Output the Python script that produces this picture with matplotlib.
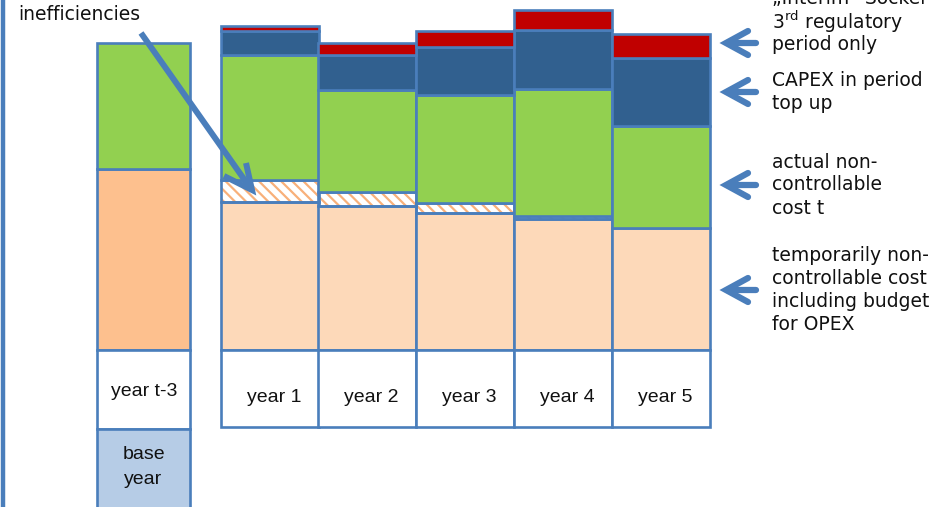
import matplotlib
matplotlib.use("Agg")
import matplotlib.pyplot as plt
from matplotlib.lines import Line2D

# ---- data -------------------------------------------------------------
years = ["year 1", "year 2", "year 3", "year 4", "year 5"]
opex_budget = [148, 144, 137, 131, 122]       # temporarily non-controllable cost incl. OPEX budget
inefficiencies = [22, 14, 10, 3, 0]            # hatched band
actual_noncontrollable = [125, 102, 108, 127, 102]
capex_topup = [24, 35, 48, 59, 68]
interim_sockel = [5, 12, 16, 20, 24]

base_label = "year t-3"
base_caption = "base\nyear"
base_opex = 181
base_actual = 126

legend_lines = [
    ["„Interim“ Sockel", r"3$^{\mathrm{rd}}$ regulatory", "period only"],
    ["CAPEX in period", "top up"],
    ["actual non-", "controllable", "cost t"],
    ["temporarily non-", "controllable cost", "including budget", "for OPEX"],
]

# ---- styling ----------------------------------------------------------
EDGE = "#4A7EBB"
C_BEIGE = "#FDD9B9"
C_ORANGE = "#FDC08E"
C_GREEN = "#92D050"
C_NAVY = "#31608F"
C_RED = "#C00000"
C_HATCH = "#F8B07A"
C_BASEBOX = "#B6CCE6"
LW = 1.9

plt.rcParams["hatch.linewidth"] = 1.6

W, H = 935, 507
fig = plt.figure(figsize=(W / 100, H / 100), dpi=100)

# value axes: 0 at the common baseline, label boxes below it
ax = fig.add_axes([0, 0, 1, 1])
ax.set_xlim(0, W)
ax.set_ylim(-(H - 350), 350)
ax.axis("off")

year_x = [270, 367, 465, 563, 661]
year_w = 97.5
base_x = 143.5
base_w = 93

# stacked year columns
bottom = [0] * len(years)


def stack(values, color, hatch=False):
    global bottom
    xs = [x for x, v in zip(year_x, values) if v > 0]
    vs = [v for v in values if v > 0]
    bs = [b for b, v in zip(bottom, values) if v > 0]
    if hatch:
        ax.bar(xs, vs, bottom=bs, width=year_w, color="white",
               edgecolor=C_HATCH, linewidth=0, hatch="\\\\\\", zorder=2)
        ax.bar(xs, vs, bottom=bs, width=year_w, fill=False,
               edgecolor=EDGE, linewidth=LW, zorder=3)
    else:
        ax.bar(xs, vs, bottom=bs, width=year_w, color=color,
               edgecolor=EDGE, linewidth=LW, zorder=3)
    bottom = [b + v for b, v in zip(bottom, values)]


stack(opex_budget, C_BEIGE)
stack(inefficiencies, None, hatch=True)
stack(actual_noncontrollable, C_GREEN)
stack(capex_topup, C_NAVY)
stack(interim_sockel, C_RED)

# base year column
ax.bar(base_x, base_opex, width=base_w, color=C_ORANGE, edgecolor=EDGE,
       linewidth=LW, zorder=3)
ax.bar(base_x, base_actual, bottom=base_opex, width=base_w, color=C_GREEN,
       edgecolor=EDGE, linewidth=LW, zorder=3)

# label boxes under the columns
ax.bar(year_x, [-77] * len(years), width=year_w, color="white",
       edgecolor=EDGE, linewidth=LW, zorder=3)
ax.bar(base_x, -79, width=base_w, color="white", edgecolor=EDGE,
       linewidth=LW, zorder=3)
ax.bar(base_x, -90, bottom=-79, width=base_w, color=C_BASEBOX,
       edgecolor=EDGE, linewidth=LW, zorder=3)

lab_font = dict(family=["Liberation Sans", "DejaVu Sans"], fontsize=14,
                color="#111111", ha="center", va="center", zorder=5)
for x, name in zip(year_x, years):
    ax.text(x + 4, -47, name, **lab_font)
ax.text(base_x + 1, -42, base_label, **lab_font)
ax.text(base_x, -117, base_caption, linespacing=1.55, **lab_font)

# ---- annotation layer in pixel coordinates -----------------------------
deco = fig.add_axes([0, 0, 1, 1], zorder=10)
deco.set_xlim(0, W)
deco.set_ylim(H, 0)
deco.axis("off")
deco.patch.set_alpha(0)

# left margin rule
deco.add_line(Line2D([3, 3], [0, H], color=EDGE, linewidth=3.2))

txt_font = dict(family=["DejaVu Sans"], fontsize=13.5, color="#111111")

deco.text(18, 15, "inefficiencies", ha="left", va="center", **txt_font)

# diagonal pointer to the hatched band
arrow_kw = dict(color=EDGE, linewidth=4.3, solid_capstyle="butt",
                solid_joinstyle="miter")
deco.add_line(Line2D([141, 251], [33, 189], **arrow_kw))
deco.add_line(Line2D([246, 252, 224], [163, 190, 176], **arrow_kw))

# legend arrows and captions on the right
arrow_y = [43, 92, 185, 290]
line_h = 23
for ay, lines in zip(arrow_y, legend_lines):
    deco.add_line(Line2D([756, 727], [ay, ay], color=EDGE, linewidth=4.5,
                         solid_capstyle="round"))
    deco.add_line(Line2D([748, 726, 748], [ay - 12, ay, ay + 12], color=EDGE,
                         linewidth=4.5, solid_capstyle="round",
                         solid_joinstyle="miter"))
    n = len(lines)
    y0 = ay - (n - 1) * line_h / 2
    if n == 3 and ay == arrow_y[0]:
        y0 = -1
    for i, s in enumerate(lines):
        deco.text(772, y0 + i * line_h, s, ha="left", va="center", **txt_font)

fig.savefig("out.png", dpi=100)
